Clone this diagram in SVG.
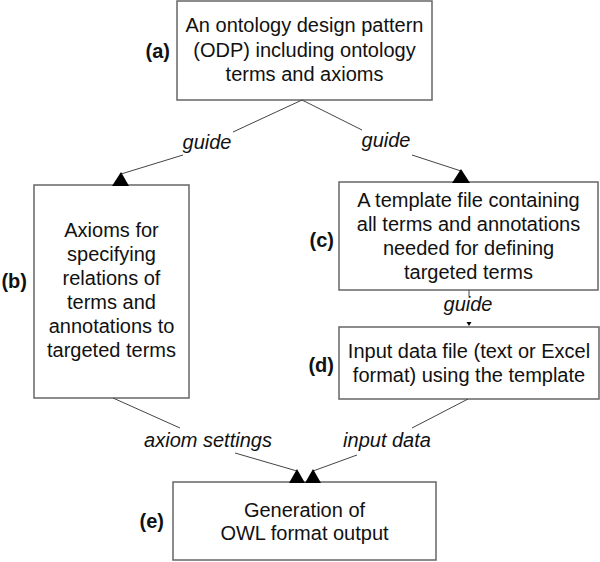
<svg xmlns="http://www.w3.org/2000/svg" width="600" height="562" viewBox="0 0 600 562">
<style>
.box{fill:#fff;stroke:#666;stroke-width:1.5}
.t{font-family:"Liberation Sans",Arial,sans-serif;font-size:20px;fill:#111;text-anchor:middle}
.lab{font-family:"Liberation Sans",Arial,sans-serif;font-size:20px;font-weight:bold;fill:#111;text-anchor:end}
.el{font-family:"Liberation Sans",Arial,sans-serif;font-size:20px;font-style:italic;fill:#111;text-anchor:middle}
.ln{stroke:#444;stroke-width:1;fill:none}
.ah{fill:#000}
</style>
<g id="node-a">
<rect class="box" x="177" y="1" width="255" height="99"/>
<text class="t" x="304.5" y="32">An ontology design pattern</text>
<text class="t" x="304.5" y="57">(ODP) including ontology</text>
<text class="t" x="304.5" y="81">terms and axioms</text>
<text class="lab" x="170" y="58">(a)</text>
</g>
<g id="node-b">
<rect class="box" x="34" y="185" width="155" height="213"/>
<text class="t" x="111.5" y="237">Axioms for</text>
<text class="t" x="111.5" y="261">specifying</text>
<text class="t" x="111.5" y="285">relations of</text>
<text class="t" x="111.5" y="309">terms and</text>
<text class="t" x="111.5" y="333">annotations to</text>
<text class="t" x="111.5" y="357">targeted terms</text>
<text class="lab" x="27" y="288">(b)</text>
</g>
<g id="node-c">
<rect class="box" x="339" y="182" width="259" height="108"/>
<text class="t" x="468.5" y="207">A template file containing</text>
<text class="t" x="468.5" y="231">all terms and annotations</text>
<text class="t" x="468.5" y="255">needed for defining</text>
<text class="t" x="468.5" y="279">targeted terms</text>
<text class="lab" x="334" y="247">(c)</text>
</g>
<g id="node-d">
<rect class="box" x="339" y="327" width="260" height="72"/>
<text class="t" x="469" y="358">Input data file (text or Excel</text>
<text class="t" x="469" y="382">format) using the template</text>
<text class="lab" x="334" y="372">(d)</text>
</g>
<g id="node-e">
<rect class="box" x="173" y="482" width="263" height="78"/>
<text class="t" x="304.5" y="517">Generation of</text>
<text class="t" x="304.5" y="540">OWL format output</text>
<text class="lab" x="164" y="528">(e)</text>
</g>
<g id="connectors">
<line class="ln" x1="302" y1="100" x2="233" y2="132"/>
<line class="ln" x1="183" y1="155" x2="121" y2="174"/>
<polygon class="ah" points="121,172 112,186 129,186"/>
<line class="ln" x1="302" y1="100" x2="362" y2="130"/>
<line class="ln" x1="412" y1="155" x2="461" y2="171"/>
<polygon class="ah" points="461,169 452,183 470,183"/>
<line class="ln" x1="469" y1="290" x2="469" y2="296"/>
<polygon class="ah" points="466.5,322 471.5,322 469,326"/>
<line class="ln" x1="113" y1="398" x2="180" y2="428"/>
<line class="ln" x1="235" y1="453" x2="297" y2="471"/>
<polygon class="ah" points="297,469 289,483 305,483"/>
<line class="ln" x1="468" y1="399" x2="412" y2="428"/>
<line class="ln" x1="357" y1="455" x2="313" y2="471"/>
<polygon class="ah" points="313,469 305,483 321,483"/>
<text class="el" x="207" y="149">guide</text>
<text class="el" x="386" y="147">guide</text>
<text class="el" x="468" y="311">guide</text>
<text class="el" x="208" y="447">axiom settings</text>
<text class="el" x="387" y="447">input data</text>
</g>
</svg>
